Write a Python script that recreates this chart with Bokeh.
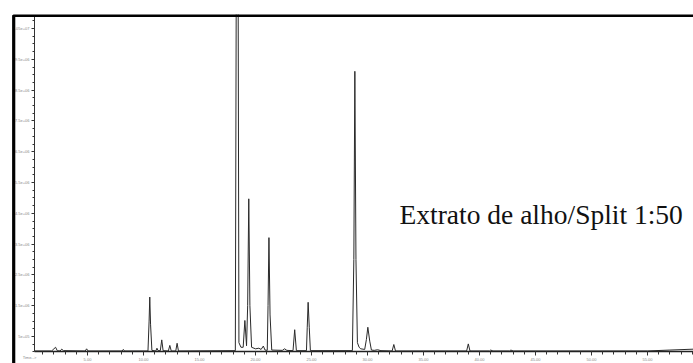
from bokeh.plotting import figure
from bokeh.models import Range1d, LinearAxis, FixedTicker, Label, BoxAnnotation
from bokeh.embed import file_html
from bokeh.resources import INLINE

# Chromatogram trace: retention time (min) and abundance
time_min = [0.27, 1.8, 2.0, 2.15, 2.3, 2.55, 2.7, 2.85, 4.8, 4.92, 5.05, 8.1, 8.2, 8.3,
            10.4, 10.5, 10.56, 10.63, 10.75, 11.1, 11.2, 11.3, 11.5, 11.63, 11.75,
            12.22, 12.35, 12.48, 12.88, 13.0, 13.12,
            18.2, 18.37, 18.52, 18.7, 18.9, 19.05, 19.2, 19.3, 19.4, 19.5, 19.65,
            20.0, 20.3, 20.5, 20.7, 20.85, 21.05, 21.12, 21.2, 21.3, 21.45,
            22.4, 22.6, 22.8, 23.35, 23.5, 23.65, 24.55, 24.62, 24.7, 24.8, 24.9,
            28.65, 28.78, 28.87, 28.97, 29.1, 29.25, 29.4, 29.75, 29.9, 30.03, 30.2, 30.35,
            30.6, 30.9, 31.2, 32.2, 32.35, 32.5, 38.85, 39.0, 39.15,
            40.9, 41.0, 41.2, 42.7, 42.8, 43.0, 55.0, 57.0, 59.2]
abundance = [3e4, 3e4, 1.0e5, 1.5e5, 4e4, 3e4, 9e4, 4e4, 3e4, 1.0e5, 3e4, 3e4, 8e4, 3e4,
             3e4, 1.0e6, 1.78e6, 9e5, 5e4, 3e4, 1.2e5, 4e4, 4e4, 3.9e5, 4e4,
             3e4, 2.1e5, 3e4, 3e4, 2.8e5, 3e4,
             4e4, 2.5e7, 3e5, 1.5e5, 1.5e5, 1.02e6, 2e5, 1.5e6, 4.97e6, 1.5e6, 1.5e5,
             1.0e5, 1.2e5, 8e4, 1.9e5, 6e4, 5e4, 1.5e6, 3.71e6, 1.2e6, 6e4,
             5e4, 1.0e5, 5e4, 4e4, 7.2e5, 4e4, 4e4, 8e5, 1.61e6, 8e5, 4e4,
             4e4, 3.0e6, 9.11e6, 3.0e6, 3e5, 1.5e5, 1.0e5, 8e4, 4e5, 8e5, 3.5e5, 6e4,
             5e4, 7e4, 4e4, 3e4, 2.4e5, 3e4, 3e4, 2.6e5, 3e4,
             3e4, 6e4, 3e4, 3e4, 6e4, 3e4, 3e4, 6e4, 9e4]

x_ticks = [5, 10, 15, 20, 25, 30, 35, 40, 45, 50, 55]
x_tick_labels = ["5.00", "10.00", "15.00", "20.00", "25.00", "30.00", "35.00",
                 "40.00", "45.00", "50.00", "55.00"]
x_minor = list(range(1, 60))
y_ticks = [5e5, 1.5e6, 2.5e6, 3.5e6, 4.5e6, 5.5e6, 6.5e6, 7.5e6, 8.5e6, 9.5e6, 1.05e7]
y_tick_labels = ["5e+05", "1.5e+06", "2.5e+06", "3.5e+06", "4.5e+06", "5.5e+06",
                 "6.5e+06", "7.5e+06", "8.5e+06", "9.5e+06", "1.05e+07"]
y_minor = [k * 2.5e5 for k in range(0, 44)]
annotation_text = "Extrato de alho/Split 1:50"

W, H = 693, 363
TOP = 14
PX_PER_MIN = 11.2
X0_PX = 31.0
PX_PER_UNIT = 30.8e-6
Y0_PX = 351.4


def t_at(px):
    return (px - X0_PX) / PX_PER_MIN


def a_at(py):
    return (Y0_PX - py) / PX_PER_UNIT


p = figure(width=W, height=H, output_backend="svg", toolbar_location=None,
           x_axis_type=None, y_axis_type=None,
           x_range=Range1d(t_at(0), t_at(W)), y_range=Range1d(a_at(H), a_at(TOP)),
           min_border=0, min_border_left=0, min_border_right=0,
           min_border_top=TOP, min_border_bottom=0)
p.title.visible = False
p.outline_line_color = None
p.xgrid.visible = False
p.ygrid.visible = False
p.background_fill_color = "white"
p.border_fill_color = "white"

p.line(time_min, abundance, line_color="#2a2a2a", line_width=1.0)

xaxis = LinearAxis(fixed_location=0, bounds=(t_at(34), t_at(W + 5)),
                   ticker=FixedTicker(ticks=x_ticks, minor_ticks=x_minor))
xaxis.major_label_overrides = {t: l for t, l in zip(x_ticks, x_tick_labels)}
xaxis.axis_line_color = "#222222"
xaxis.axis_line_width = 1.5
xaxis.major_tick_in = 0
xaxis.major_tick_out = 4
xaxis.minor_tick_in = 0
xaxis.minor_tick_out = 3
xaxis.major_tick_line_color = "#333333"
xaxis.minor_tick_line_color = "#333333"
xaxis.major_label_text_font_size = "4px"
xaxis.major_label_text_color = "#888888"
xaxis.major_label_standoff = 2
p.add_layout(xaxis, "below")

yaxis = LinearAxis(fixed_location=t_at(34), bounds=(0, a_at(15)),
                   ticker=FixedTicker(ticks=y_ticks, minor_ticks=y_minor))
yaxis.major_label_overrides = {t: l for t, l in zip(y_ticks, y_tick_labels)}
yaxis.axis_line_color = "#333333"
yaxis.axis_line_width = 1.0
yaxis.major_tick_in = 0
yaxis.major_tick_out = 3
yaxis.minor_tick_in = 0
yaxis.minor_tick_out = 2
yaxis.major_tick_line_color = "#333333"
yaxis.minor_tick_line_color = "#333333"
yaxis.major_label_text_font_size = "4px"
yaxis.major_label_text_color = "#888888"
yaxis.major_label_standoff = 2
p.add_layout(yaxis, "left")

time_label = Label(x=t_at(29), y=a_at(357), text="Time-->", text_font_size="4px",
                   text_color="#888888", text_align="center", text_baseline="middle")
p.add_layout(time_label)

frame = BoxAnnotation(left=t_at(13.2), right=t_at(W + 20), top=a_at(15), bottom=a_at(H + 20),
                      fill_alpha=0, line_color="black", line_alpha=1.0, line_width=3.2)
p.add_layout(frame)

title_label = Label(x=t_at(399), y=a_at(214), text=annotation_text,
                    text_font="Liberation Serif", text_font_size="27.5px",
                    text_color="#111111", text_align="left", text_baseline="alphabetic")
p.add_layout(title_label)

open("out.html", "w").write(file_html(p, INLINE))
